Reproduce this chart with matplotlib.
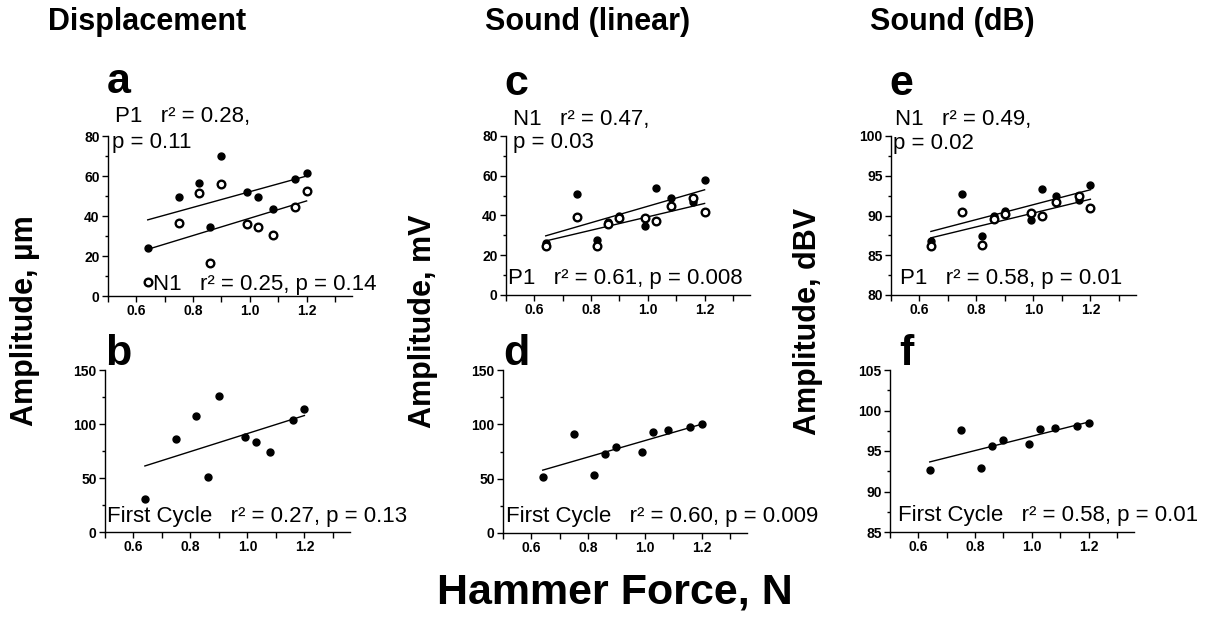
#!/usr/bin/env python3
import matplotlib

matplotlib.use("Agg")
import matplotlib.pyplot as plt
import numpy as np
from matplotlib.ticker import MultipleLocator

# hammer force (N), shared by every panel
force = [0.64, 0.75, 0.82, 0.86, 0.90, 0.99, 1.03, 1.08, 1.16, 1.20]

# a: displacement, um
disp_filled = [24, 49.7, 56.3, 34.7, 70, 51.8, 49.3, 43.3, 58.5, 61.7]
disp_open = [7, 36.3, 51.3, 16.3, 56, 36, 34.3, 30.3, 44.3, 52.5]
# b: displacement, first cycle
disp_first = [30.6, 86, 107.7, 50.6, 126, 88.3, 83.6, 73.8, 103.7, 113.9]

# c: sound, mV
lin_filled = [26, 51, 27.7, 36.5, 39.5, 34.8, 54, 48.8, 47, 57.7]
lin_open = [24.5, 39.3, 24.7, 35.5, 38.5, 38.8, 37.2, 44.8, 49, 41.8]
# d: sound, first cycle
lin_first = [51.2, 91, 53.4, 73, 79.6, 74.1, 92.5, 95, 97.1, 100.2]

# e: sound, dBV
db_filled = [86.75, 92.7, 87.4, 89.96, 90.6, 89.4, 93.3, 92.4, 92.0, 93.8]
db_open = [86.2, 90.5, 86.3, 89.6, 90.2, 90.3, 89.96, 91.7, 92.4, 91.0]
# f: sound dB, first cycle
db_first = [92.6, 97.6, 92.9, 95.65, 96.4, 95.9, 97.7, 97.9, 98.1, 98.4]

column_titles = ["Displacement", "Sound (linear)", "Sound (dB)"]
y_labels = ["Amplitude, \u00b5m", "Amplitude, mV", "Amplitude, dBV"]

plt.rcParams["font.family"] = ["Liberation Sans", "DejaVu Sans"]

W, H = 1217, 623


def add_axes_px(fig, left, top, right, bottom):
    return fig.add_axes([left / W, 1 - bottom / H, (right - left) / W, (bottom - top) / H])


def style_axes(ax, ylim, ymajor):
    ax.set_xlim(0.5, 1.36)
    ax.set_ylim(*ylim)
    ax.xaxis.set_major_locator(MultipleLocator(0.2))
    ax.xaxis.set_minor_locator(MultipleLocator(0.1))
    ax.yaxis.set_major_locator(MultipleLocator(ymajor))
    ax.yaxis.set_minor_locator(MultipleLocator(ymajor / 2))
    ax.set_xticks([0.6, 0.8, 1.0, 1.2])
    for side in ("top", "right"):
        ax.spines[side].set_visible(False)
    for side in ("left", "bottom"):
        ax.spines[side].set_linewidth(1.0)
    ax.tick_params(which="major", length=4, width=1.0, labelsize=10, pad=2)
    ax.tick_params(axis="y", which="minor", length=2.5, width=1.0)
    ax.tick_params(axis="x", which="minor", length=4, width=1.0)
    for lab in ax.get_xticklabels() + ax.get_yticklabels():
        lab.set_fontweight("bold")


def scatter_fit(ax, y, filled):
    x = np.array(force)
    y = np.array(y)
    coef = np.polyfit(x, y, 1)
    xs = np.array([x.min(), x.max()])
    ax.plot(xs, np.polyval(coef, xs), color="black", lw=1.0, zorder=2)
    if filled:
        ax.plot(x, y, "o", color="black", ms=5, zorder=3, clip_on=False)
    else:
        ax.plot(x, y, "o", mfc="white", mec="black", mew=1.7, ms=5.5, zorder=4, clip_on=False)


def note(ax, x, y, s, size=16):
    ax.text(x, y, s, transform=ax.transAxes, fontsize=size, ha="left", va="baseline", clip_on=False)


def letter(ax, x, y, s):
    ax.text(x, y, s, transform=ax.transAxes, fontsize=31, fontweight="bold",
            ha="left", va="baseline", clip_on=False)


def main():
    fig = plt.figure(figsize=(W / 100, H / 100), dpi=100)

    ax_a = add_axes_px(fig, 108, 136, 352, 296)
    ax_b = add_axes_px(fig, 105, 370, 350, 532)
    ax_c = add_axes_px(fig, 506, 136, 750, 295)
    ax_d = add_axes_px(fig, 503, 370, 747, 533)
    ax_e = add_axes_px(fig, 891, 136, 1136, 295)
    ax_f = add_axes_px(fig, 890, 370, 1134, 532)

    style_axes(ax_a, (0, 80), 20)
    style_axes(ax_b, (0, 150), 50)
    style_axes(ax_c, (0, 80), 20)
    style_axes(ax_d, (0, 150), 50)
    style_axes(ax_e, (80, 100), 5)
    style_axes(ax_f, (85, 105), 5)

    scatter_fit(ax_a, disp_filled, True)
    scatter_fit(ax_a, disp_open, False)
    scatter_fit(ax_b, disp_first, True)
    scatter_fit(ax_c, lin_filled, True)
    scatter_fit(ax_c, lin_open, False)
    scatter_fit(ax_d, lin_first, True)
    scatter_fit(ax_e, db_filled, True)
    scatter_fit(ax_e, db_open, False)
    scatter_fit(ax_f, db_first, True)

    note(ax_a, 0.03, 1.085, "P1   r\u00b2 = 0.28,")
    note(ax_a, 0.015, 0.925, "p = 0.11")
    note(ax_a, 0.186, 0.04, "N1   r\u00b2 = 0.25, p = 0.14")
    note(ax_b, 0.01, 0.06, "First Cycle   r\u00b2 = 0.27, p = 0.13")

    note(ax_c, 0.028, 1.07, "N1   r\u00b2 = 0.47,")
    note(ax_c, 0.028, 0.925, "p = 0.03")
    note(ax_c, 0.01, 0.07, "P1   r\u00b2 = 0.61, p = 0.008")
    note(ax_d, 0.012, 0.07, "First Cycle   r\u00b2 = 0.60, p = 0.009")

    note(ax_e, 0.016, 1.07, "N1   r\u00b2 = 0.49,")
    note(ax_e, 0.007, 0.92, "p = 0.02")
    note(ax_e, 0.037, 0.07, "P1   r\u00b2 = 0.58, p = 0.01")
    note(ax_f, 0.033, 0.068, "First Cycle   r\u00b2 = 0.58, p = 0.01")

    letter(ax_a, -0.005, 1.267, "a")
    letter(ax_b, 0.0, 1.03, "b")
    letter(ax_c, -0.005, 1.257, "c")
    letter(ax_d, 0.0, 1.03, "d")
    letter(ax_e, -0.005, 1.257, "e")
    letter(ax_f, 0.037, 1.03, "f")

    for title, x in zip(column_titles, [48, 485, 870]):
        fig.text(x / W, 1 - 30 / H, title, fontsize=22, fontweight="bold", ha="left", va="baseline")
    for label, x in zip(y_labels, [25, 423, 808]):
        fig.text(x / W, 1 - 321 / H, label, fontsize=22, fontweight="bold",
                 rotation=90, ha="center", va="center")
    fig.text(615 / W, 1 - 592 / H, "Hammer Force, N", fontsize=31, fontweight="bold",
             ha="center", va="center")

    fig.savefig("out.png", dpi=100)
    plt.close(fig)


if __name__ == "__main__":
    main()
